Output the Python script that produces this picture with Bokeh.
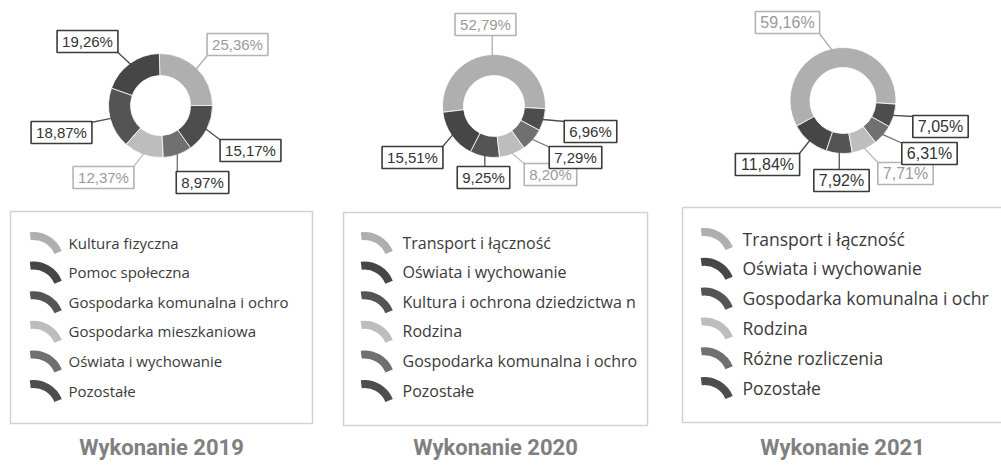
import math
from bokeh.plotting import figure
from bokeh.models import Range1d
from bokeh.core.properties import value
from bokeh.embed import file_html
from bokeh.resources import INLINE

# ---------------- data ----------------
titles = ["Wykonanie 2019", "Wykonanie 2020", "Wykonanie 2021"]

cats_2019 = ["Kultura fizyczna", "Pomoc społeczna", "Gospodarka komunalna i ochro",
             "Gospodarka mieszkaniowa", "Oświata i wychowanie", "Pozostałe"]
vals_2019 = [25.36, 19.26, 18.87, 12.37, 8.97, 15.17]

cats_2020 = ["Transport i łączność", "Oświata i wychowanie", "Kultura i ochrona dziedzictwa n",
             "Rodzina", "Gospodarka komunalna i ochro", "Pozostałe"]
vals_2020 = [52.79, 15.51, 9.25, 8.20, 7.29, 6.96]

cats_2021 = ["Transport i łączność", "Oświata i wychowanie", "Gospodarka komunalna i ochr",
             "Rodzina", "Różne rozliczenia", "Pozostałe"]
vals_2021 = [59.16, 11.84, 7.92, 7.71, 6.31, 7.05]

all_cats = [cats_2019, cats_2020, cats_2021]
all_vals = [vals_2019, vals_2020, vals_2021]

# ---------------- styles / layout ----------------
slice_colors = ["#afafaf", "#464646", "#545454", "#bdbdbd", "#707070", "#4d4d4d"]
light_idx = {0, 3}
lab_text_dark, lab_text_light = "#333333", "#9a9a9a"
lab_border_dark, lab_border_light = "#3a3a3a", "#b3b3b3"

W, H = 1001, 466  # page size; data y = H - page y
def Y(py):
    return H - py

centers = [(160, 105), (493.5, 105.5), (842.5, 100)]
r_out = [52, 51.5, 53]
r_in = [30, 30.5, 33]
rot = [0, -3, -4]  # start angle (deg), slices go anticlockwise

label_pos = [
    [(237, 44), (87, 41), (61, 132), (103, 177), (202, 182), (250, 150)],
    [(485, 24), (412, 157), (483, 177), (550, 174), (575, 157), (590, 131)],
    [(787, 22), (767, 164), (841, 180), (905, 173), (929, 153), (940, 126)],
]
lab_fs = [15, 15, 16]

legend_boxes = [(10, 211, 312, 423), (343, 212, 647, 425), (682, 207, 1010, 422)]
leg_row0 = [242, 242, 238]
leg_step = [29.6, 29.6, 29.8]
leg_icon_x = [32, 363, 703]
leg_text_x = [68, 402, 742]
leg_fs = [15, 16, 17.5]

title_x = [161, 495, 842]
title_y = 447


def arial_w(s, fs):
    w = {',': .278, '%': .889, '.': .278}
    return sum(w.get(c, .556) for c in s) * fs


p = figure(width=W, height=H, x_range=Range1d(0, W), y_range=Range1d(0, H),
           output_backend="svg", toolbar_location=None,
           x_axis_location=None, y_axis_location=None, min_border=0)
p.grid.visible = False
p.outline_line_color = None
p.background_fill_color = "white"
p.border_fill_color = "white"

for k in range(3):
    vals = all_vals[k]
    cats = all_cats[k]
    tot = sum(vals)
    cx, cy = centers[k]
    cum = 0.0
    starts, ends, mids = [], [], []
    for v in vals:
        a0 = rot[k] + cum / tot * 360.0
        cum += v
        a1 = rot[k] + cum / tot * 360.0
        starts.append(math.radians(a0))
        ends.append(math.radians(a1))
        mids.append(math.radians((a0 + a1) / 2))

    # donut
    p.annular_wedge(x=[cx] * len(vals), y=[Y(cy)] * len(vals),
                    inner_radius=r_in[k], outer_radius=r_out[k],
                    start_angle=starts, end_angle=ends, direction="anticlock",
                    fill_color=slice_colors[:len(vals)], line_color="white", line_width=0.8)

    # labels with leader lines
    fs = lab_fs[k]
    texts = [f"{v:.2f}%".replace(".", ",") for v in vals]
    x0s, y0s, x1s, y1s, lcols = [], [], [], [], []
    bx, by, bw, bh, bcol, tcol = [], [], [], [], [], []
    for i, (t, m) in enumerate(zip(texts, mids)):
        rx = cx + (r_out[k] - 1) * math.cos(m)
        ry = cy - (r_out[k] - 1) * math.sin(m)
        lx, ly = label_pos[k][i]
        w = arial_w(t, fs) + 10
        h = 22
        ax = min(max(rx, lx - w / 2 + 1), lx + w / 2 - 1)
        ay = min(max(ry, ly - h / 2 + 1), ly + h / 2 - 1)
        x0s.append(rx); y0s.append(Y(ry)); x1s.append(ax); y1s.append(Y(ay))
        light = i in light_idx
        lcols.append(slice_colors[i])
        bx.append(lx); by.append(Y(ly)); bw.append(w); bh.append(h)
        bcol.append(lab_border_light if light else lab_border_dark)
        tcol.append(lab_text_light if light else lab_text_dark)
    p.segment(x0=x0s, y0=y0s, x1=x1s, y1=y1s, line_color=lcols, line_width=1.3)
    p.rect(x=bx, y=by, width=bw, height=bh, fill_color="white",
           line_color=bcol, line_width=1.6)
    p.text(x=bx, y=by, text=texts, text_color=tcol, text_align="center",
           text_baseline="middle", text_font=value("Liberation Sans"),
           text_font_size=f"{fs}px")

    # legend box
    x0, y0, x1, y1 = legend_boxes[k]
    p.quad(left=[x0], right=[x1], top=[Y(y0)], bottom=[Y(y1)],
           fill_color="white", line_color="#d2d2d2", line_width=1.5)
    rows = [leg_row0[k] + j * leg_step[k] for j in range(len(cats))]
    ix = leg_icon_x[k]
    p.annular_wedge(x=[ix + 1] * len(cats), y=[Y(r + 20) for r in rows],
                    inner_radius=22.5, outer_radius=30.5,
                    start_angle=math.radians(22), end_angle=math.radians(97),
                    direction="anticlock", fill_color=slice_colors[:len(cats)],
                    line_color=None)
    p.text(x=[leg_text_x[k]] * len(cats), y=[Y(r) for r in rows], text=cats,
           text_color="#3a3a3a", text_baseline="middle", text_align="left",
           text_font=value("Open Sans"), text_font_size=f"{leg_fs[k]}px")

    # title
    p.text(x=[title_x[k]], y=[Y(title_y)], text=[titles[k]], text_color="#808080",
           text_align="center", text_baseline="middle",
           text_font=value("Roboto"), text_font_style="bold", text_font_size="22px")

open("out.html", "w").write(file_html(p, INLINE))
